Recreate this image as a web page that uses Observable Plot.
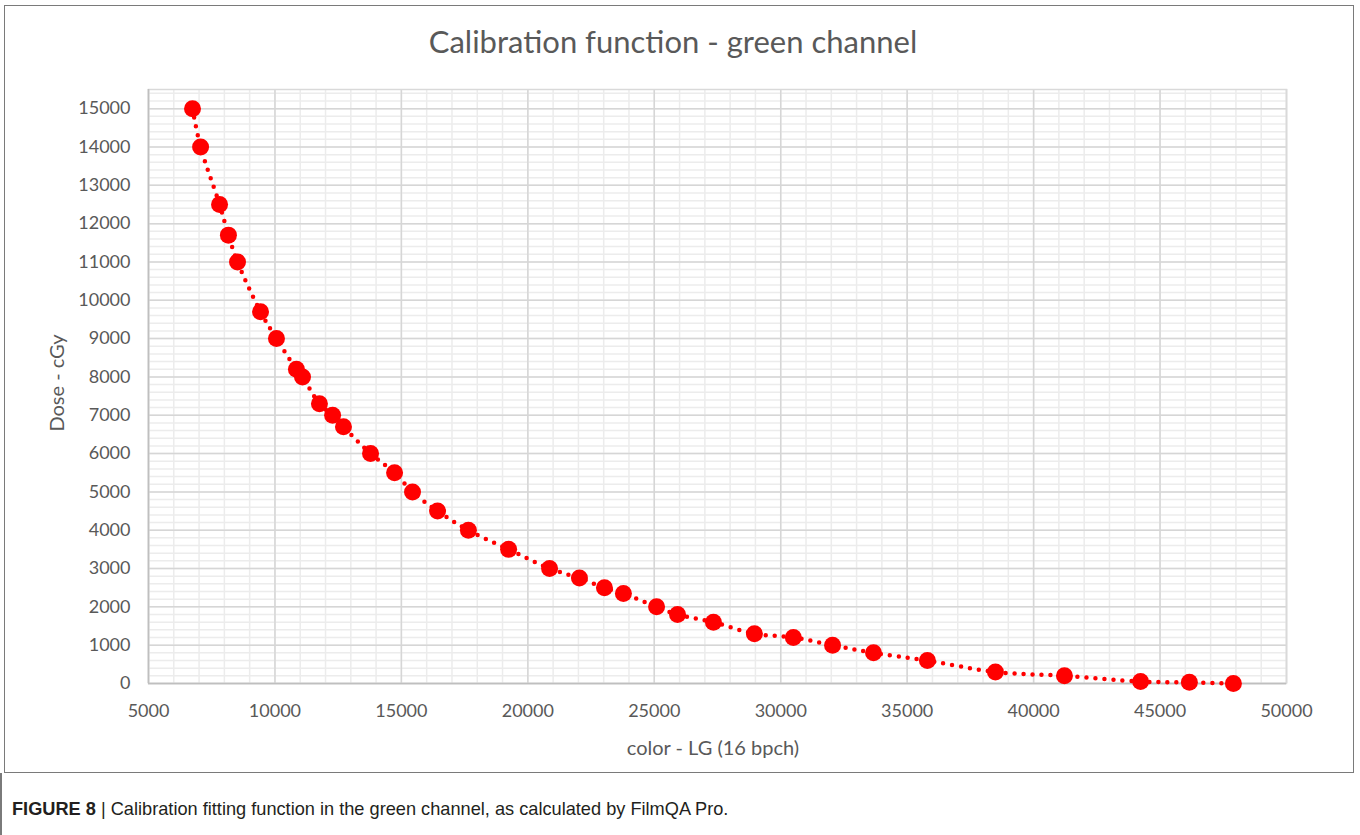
<!DOCTYPE html>
<html><head><meta charset="utf-8">
<script src="https://cdn.jsdelivr.net/npm/d3@7"></script>
<script src="https://cdn.jsdelivr.net/npm/@observablehq/plot@0.6"></script>
<style>
body{margin:0;background:#fff;width:1360px;height:835px;position:relative;overflow:hidden;font-family:Lato,sans-serif}
#frame{position:absolute;left:4px;top:5px;width:1350px;height:768px;border:1.5px solid #7a7a7a;box-sizing:border-box}
#leftline{position:absolute;left:0;top:773px;width:1.5px;height:62px;background:#7a7a7a}
#title{position:absolute;top:22px;left:0;width:1346px;text-align:center;font-size:31px;color:#595959}
#chart{position:absolute;left:0;top:0}
#ytitle{position:absolute;left:56px;top:383px;transform:translate(-50%,-50%) rotate(-90deg);font-size:20px;color:#595959;white-space:nowrap}
#xtitle{position:absolute;left:713px;top:747px;transform:translate(-50%,-50%);font-size:20px;color:#595959;white-space:nowrap}
#caption{position:absolute;left:12px;top:799px;font-family:"Liberation Sans",Arial,sans-serif;font-size:18.2px;color:#231f20;white-space:nowrap}
</style></head>
<body>
<div id="frame"></div>
<div id="leftline"></div>
<div id="chart"></div>
<div id="title">Calibration function - green channel</div>
<div id="ytitle">Dose - cGy</div>
<div id="xtitle">color - LG (16 bpch)</div>
<div id="caption"><b>FIGURE 8</b> | Calibration fitting function in the green channel, as calculated by FilmQA Pro.</div>
<script>
// Data
const colorLG = [6740, 7060, 7810, 8160, 8520, 9430, 10060, 10850, 11090, 11760, 12280, 12710, 13780, 14730, 15440, 16430, 17650, 19240, 20860, 22040, 23030, 23780, 25090, 25920, 27340, 28960, 30500, 32050, 33670, 35800, 38490, 41220, 44230, 46160, 47900];
const dose    = [15000, 14000, 12500, 11700, 11000, 9700, 9000, 8200, 8000, 7300, 7000, 6700, 6000, 5500, 5000, 4500, 4000, 3500, 3000, 2750, 2500, 2350, 2000, 1800, 1600, 1300, 1200, 1000, 800, 600, 300, 200, 50, 30, 0];
const xTicks = [5000, 10000, 15000, 20000, 25000, 30000, 35000, 40000, 45000, 50000];
const yTicks = [0, 1000, 2000, 3000, 4000, 5000, 6000, 7000, 8000, 9000, 10000, 11000, 12000, 13000, 14000, 15000];
const xMinor = d3.range(5000, 50001, 1000);
const yMinor = d3.range(0, 15500, 200);

const data = colorLG.map((x, i) => ({x, y: dose[i]}));

const chart = Plot.plot({
  width: 1360, height: 770,
  marginLeft: 148, marginRight: 74, marginTop: 89, marginBottom: 87,
  style: {fontFamily: "Lato, sans-serif", fontSize: "18px", color: "#595959", background: "transparent"},
  x: {domain: [5000, 50000]},
  y: {domain: [0, 15500]},
  marks: [
    Plot.ruleX(xMinor, {stroke: "#ececec", strokeWidth: 1.5}),
    Plot.ruleY(yMinor, {stroke: "#ececec", strokeWidth: 1.5}),
    Plot.ruleX(xTicks, {stroke: "#d6d6d6", strokeWidth: 1.5}),
    Plot.ruleY(yTicks, {stroke: "#d6d6d6", strokeWidth: 1.5}),
    Plot.frame({stroke: "#d9d9d9", strokeWidth: 1.5}),
    Plot.ruleY([0], {stroke: "#bfbfbf", strokeWidth: 1.5}),
    Plot.ruleX([5000], {stroke: "#bfbfbf", strokeWidth: 1.5}),
    Plot.line(data, {x: "x", y: "y", curve: "catmull-rom", stroke: "#ff0000", strokeWidth: 4.5, strokeDasharray: "0 9", strokeLinecap: "round"}),
    Plot.dot(data, {x: "x", y: "y", r: 8.5, fill: "#ff0000"}),
    Plot.axisX(xTicks, {tickSize: 0, tickPadding: 21, label: null, tickFormat: d => String(d), fill: "#595959"}),
    Plot.axisY(yTicks, {tickSize: 0, tickPadding: 18, label: null, tickFormat: d => String(d), fill: "#595959"})
  ]
});
document.getElementById("chart").appendChild(chart);
</script>
</body></html>
